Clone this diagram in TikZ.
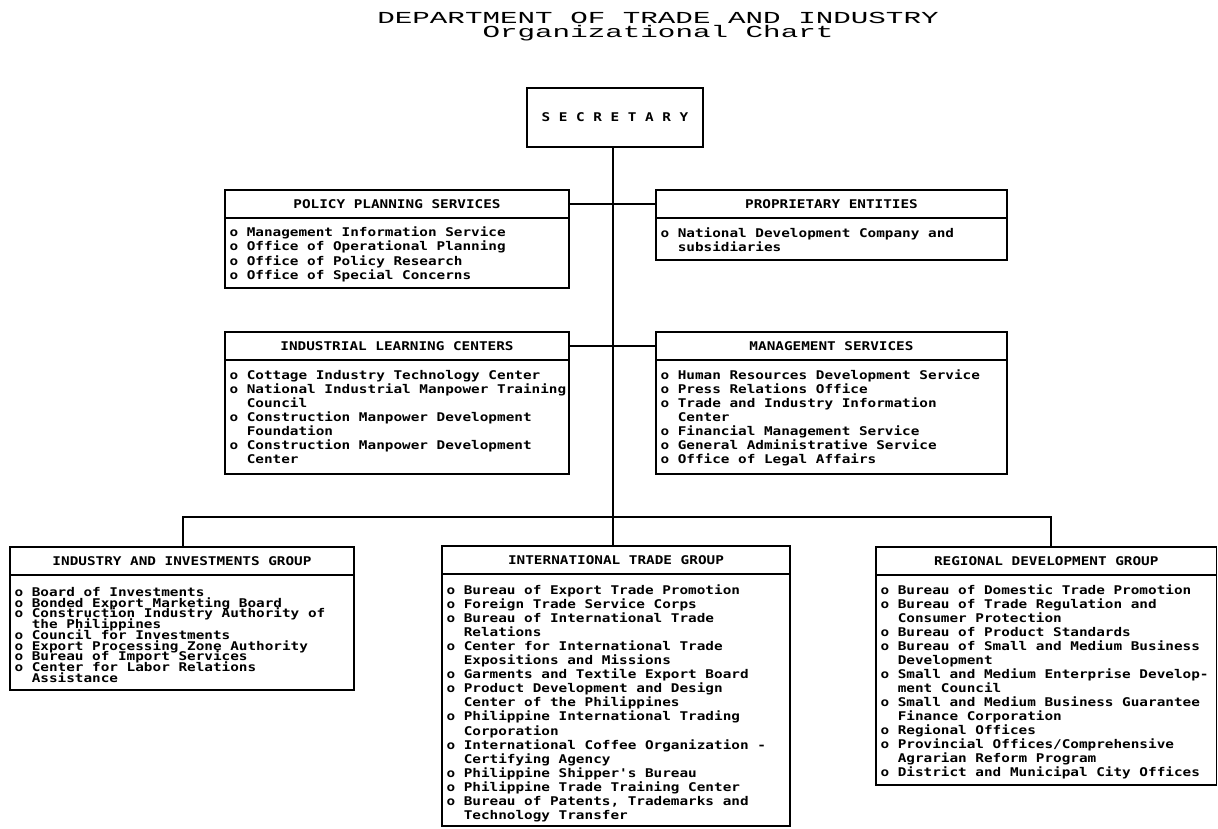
\documentclass[tikz,border=0pt]{standalone}
\usepackage{fontspec}
\newfontfamily\bodyfont{DejaVu Sans Mono Bold}[FakeStretch=1.195]
\newfontfamily\ttlfont{Liberation Mono}[FakeStretch=1.74]
\newcommand\bodyat[1]{\bodyfont\fontsize{12}{#1}\selectfont\lineskiplimit=-100pt\lineskip=0pt\relax}
\newcommand\ind{\hspace*{17.26pt}}
\newcommand\topln{\rule{0pt}{10pt}}
\begin{document}
\begin{tikzpicture}[x=1pt,y=-1pt,line width=1.2pt,
  hdr/.style={draw,anchor=north west,inner sep=0pt,outer sep=0pt,minimum height=28pt,text height=8.75pt,text depth=0pt,font=\bodyat{14}},
  bodybox/.style={draw,anchor=north west,inner sep=0pt,outer sep=0pt},
  itemlist/.style={anchor=north west,inner sep=0pt,outer sep=0pt,align=left},
  ttl/.style={anchor=base,inner sep=0pt,text height=10.5pt,font=\ttlfont\fontsize{16.8}{14}\selectfont}]
\useasboundingbox[fill=white] (0,0) rectangle (1218,828);

% title
\node[ttl,text depth=0pt] (title) at (658,23) {DEPARTMENT OF TRADE AND INDUSTRY};
\node[ttl,text depth=2.5pt] (subtitle) at (658,37.5) {Organizational Chart};

% secretary
\node[draw,inner sep=0pt,outer sep=0pt,minimum width=176pt,minimum height=59pt,text height=8.75pt,text depth=0pt,font=\bodyat{14}] (sec) at (615,117.5) {S E C R E T A R Y};

% policy planning services
\node[hdr,minimum width=344pt] (ppsh) at (225,190) {POLICY PLANNING SERVICES};
\node[bodybox,minimum width=344pt,minimum height=70pt] (ppsb) at (ppsh.south west) {};
\node[itemlist,font=\bodyat{14.3}] (ppsl) at (229.5,226.4) {\topln o Management Information Service\\
o Office of Operational Planning\\
o Office of Policy Research\\
o Office of Special Concerns};

% proprietary entities
\node[hdr,minimum width=351pt] (peh) at (656,190) {PROPRIETARY ENTITIES};
\node[bodybox,minimum width=351pt,minimum height=42pt] (peb) at (peh.south west) {};
\node[itemlist,font=\bodyat{14}] (pel) at (660.5,227.4) {\topln o National Development Company and\\
\ind subsidiaries};

% industrial learning centers
\node[hdr,minimum width=344pt] (ilch) at (225,332) {INDUSTRIAL LEARNING CENTERS};
\node[bodybox,minimum width=344pt,minimum height=114pt] (ilcb) at (ilch.south west) {};
\node[itemlist,font=\bodyat{14}] (ilcl) at (229.5,369.4) {\topln o Cottage Industry Technology Center\\
o National Industrial Manpower Training\\
\ind Council\\
o Construction Manpower Development\\
\ind Foundation\\
o Construction Manpower Development\\
\ind Center};

% management services
\node[hdr,minimum width=351pt] (msh) at (656,332) {MANAGEMENT SERVICES};
\node[bodybox,minimum width=351pt,minimum height=114pt] (msb) at (msh.south west) {};
\node[itemlist,font=\bodyat{14}] (msl) at (660.5,369.4) {\topln o Human Resources Development Service\\
o Press Relations Office\\
o Trade and Industry Information\\
\ind Center\\
o Financial Management Service\\
o General Administrative Service\\
o Office of Legal Affairs};

% industry and investments group
\node[hdr,minimum width=344pt] (iigh) at (10,547) {INDUSTRY AND INVESTMENTS GROUP};
\node[bodybox,minimum width=344pt,minimum height=115pt] (iigb) at (iigh.south west) {};
\node[itemlist,font=\bodyat{10.75}] (iigl) at (14.5,586.4) {\topln o Board of Investments\\
o Bonded Export Marketing Board\\
o Construction Industry Authority of\\
\ind the Philippines\\
o Council for Investments\\
o Export Processing Zone Authority\\
o Bureau of Import Services\\
o Center for Labor Relations\\
\ind Assistance};

% international trade group
\node[hdr,minimum width=348pt] (itgh) at (442,546) {INTERNATIONAL TRADE GROUP};
\node[bodybox,minimum width=348pt,minimum height=252pt] (itgb) at (itgh.south west) {};
\node[itemlist,font=\bodyat{14.06}] (itgl) at (446.5,584.4) {\topln o Bureau of Export Trade Promotion\\
o Foreign Trade Service Corps\\
o Bureau of International Trade\\
\ind Relations\\
o Center for International Trade\\
\ind Expositions and Missions\\
o Garments and Textile Export Board\\
o Product Development and Design\\
\ind Center of the Philippines\\
o Philippine International Trading\\
\ind Corporation\\
o International Coffee Organization -\\
\ind Certifying Agency\\
o Philippine Shipper's Bureau\\
o Philippine Trade Training Center\\
o Bureau of Patents, Trademarks and\\
\ind Technology Transfer};

% regional development group
\node[hdr,minimum width=340.5pt] (rdgh) at (876,547) {REGIONAL DEVELOPMENT GROUP};
\node[bodybox,minimum width=340.5pt,minimum height=210pt] (rdgb) at (rdgh.south west) {};
\node[itemlist,font=\bodyat{14}] (rdgl) at (880.5,584.4) {\topln o Bureau of Domestic Trade Promotion\\
o Bureau of Trade Regulation and\\
\ind Consumer Protection\\
o Bureau of Product Standards\\
o Bureau of Small and Medium Business\\
\ind Development\\
o Small and Medium Enterprise Develop-\\
\ind ment Council\\
o Small and Medium Business Guarantee\\
\ind Finance Corporation\\
o Regional Offices\\
o Provincial Offices/Comprehensive\\
\ind Agrarian Reform Program\\
o District and Municipal City Offices};

% connectors
\coordinate (hub) at (613,517);
\coordinate (busL) at (183,517);
\coordinate (busR) at (1051,517);
\draw (ppsh.east) -- (peh.west);
\draw (ilch.east) -- (msh.west);
\draw (sec.south -| hub) -- (itgh.north -| hub);
\draw (busL |- iigh.north) -- (busL) -- (busR) -- (busR |- rdgh.north);
\end{tikzpicture}
\end{document}
